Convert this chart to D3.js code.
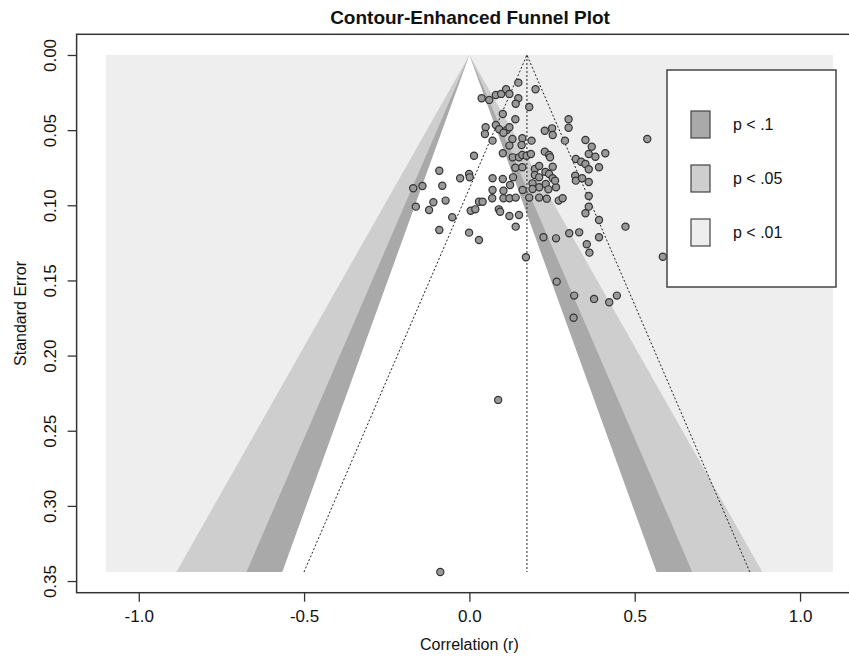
<!DOCTYPE html>
<html lang="en">
<head>
  <meta charset="UTF-8">
  <title>Contour-Enhanced Funnel Plot</title>
  <script src="https://d3js.org/d3.v7.min.js"></script>
  <style>
    body { margin: 0; background: #fff; }
    text { font-family: "Liberation Sans", Arial, sans-serif; fill: #111; }
    .tick-label { font-size: 17px; }
    .axis-title { font-size: 16px; }
    .title { font-size: 19px; font-weight: bold; }
    .legend-label { font-size: 16px; }
  </style>
</head>
<body>
  <div id="chart"></div>

  <script>
    // study effects (correlation) and standard errors
    const r = [
      0.148, 0.200, 0.037, 0.060, 0.080, 0.096, 0.111, 0.121, 0.148, 0.140,
      0.181, 0.101, 0.139, 0.300, 0.300, 0.049, 0.080, 0.090, 0.113, 0.121,
      0.047, 0.070, 0.103, 0.228, 0.250, 0.252, 0.130, 0.160, 0.188, 0.289,
      0.351, 0.538, 0.121, 0.158, 0.370, 0.014, 0.101, 0.131, 0.150, 0.160,
      0.173, 0.186, 0.228, 0.241, 0.244, 0.322, 0.361, 0.381, 0.411, 0.338,
      0.351, 0.361, 0.392, 0.139, 0.160, 0.198, 0.211, 0.252, 0.230, 0.132,
      0.198, 0.211, 0.241, 0.252, 0.320, 0.322, 0.341, 0.361, -0.091, -0.028,
      -0.001, 0.001, 0.070, 0.101, -0.170, -0.142, -0.082, 0.070, 0.103, 0.123,
      0.161, 0.191, 0.211, 0.231, 0.262, 0.239, 0.259, 0.191, -0.162, -0.122,
      -0.109, -0.072, -0.052, -0.091, -0.001, 0.029, 0.040, 0.004, 0.018, 0.069,
      0.089, 0.093, 0.103, 0.121, 0.140, 0.121, 0.150, 0.140, 0.181, 0.211,
      0.234, 0.270, 0.282, 0.361, 0.361, 0.351, 0.392, 0.472, 0.029, 0.224,
      0.262, 0.302, 0.332, 0.392, 0.355, 0.363, 0.171, 0.585, 0.264, 0.317,
      0.377, 0.423, 0.446, 0.315, 0.087, -0.088
    ];
    const se = [
      0.0184, 0.0228, 0.0288, 0.0299, 0.0266, 0.0259, 0.0228, 0.0259, 0.0288, 0.0324,
      0.0346, 0.0393, 0.0428, 0.0428, 0.0484, 0.0481, 0.0466, 0.0494, 0.0499, 0.0481,
      0.0526, 0.0570, 0.0517, 0.0504, 0.0488, 0.0532, 0.0559, 0.0554, 0.0570, 0.0570,
      0.0566, 0.0559, 0.0603, 0.0599, 0.0610, 0.0670, 0.0654, 0.0681, 0.0681, 0.0665,
      0.0670, 0.0659, 0.0643, 0.0665, 0.0681, 0.0692, 0.0659, 0.0677, 0.0654, 0.0710,
      0.0725, 0.0760, 0.0747, 0.0750, 0.0747, 0.0758, 0.0739, 0.0743, 0.0778, 0.0814,
      0.0798, 0.0814, 0.0792, 0.0820, 0.0803, 0.0836, 0.0820, 0.0845, 0.0770, 0.0820,
      0.0792, 0.0814, 0.0820, 0.0825, 0.0887, 0.0872, 0.0870, 0.0898, 0.0903, 0.0865,
      0.0898, 0.0854, 0.0880, 0.0858, 0.0880, 0.0894, 0.0836, 0.0892, 0.1009, 0.1031,
      0.0980, 0.0969, 0.1080, 0.1164, 0.1182, 0.0976, 0.0976, 0.1036, 0.1027, 0.0953,
      0.1027, 0.1043, 0.0953, 0.0953, 0.0949, 0.1071, 0.1065, 0.1142, 0.0949, 0.0949,
      0.0956, 0.0969, 0.0953, 0.0938, 0.1009, 0.1053, 0.1098, 0.1142, 0.1231, 0.1213,
      0.1220, 0.1186, 0.1180, 0.1213, 0.1259, 0.1315, 0.1346, 0.1342, 0.1508, 0.1601,
      0.1623, 0.1645, 0.1601, 0.1748, 0.2295, 0.3440
    ];

    const estimate = 0.174;   // pooled estimate (dotted funnel)
    const seMax = 0.344;
    const xLim = [-1.1, 1.1];

    // contour levels, outermost first
    const levelZ = [2.576, 1.96, 1.645];
    const levelFill = ["#cecece", "#a9a9a9", "#ffffff"];
    const legendLabels = ["p < .1", "p < .05", "p < .01"];
    const legendFill = ["#a9a9a9", "#cecece", "#eeeeee"];

    const xTicks = [-1.0, -0.5, 0.0, 0.5, 1.0];
    const yTicks = [0, 0.05, 0.10, 0.15, 0.20, 0.25, 0.30, 0.35];

    const W = 849, H = 658;
    const svg = d3.select("#chart").append("svg")
      .attr("width", W).attr("height", H);

    // R style 4% padding around the data limits
    const xPad = (xLim[1] - xLim[0]) * 0.04;
    const yPad = seMax * 0.04;
    const x = d3.scaleLinear()
      .domain([xLim[0] - xPad, xLim[1] + xPad])
      .range([76.6, 862.2]);
    const y = d3.scaleLinear()
      .domain([-yPad, seMax + yPad])
      .range([34.3, 592.7]);

    // background region
    svg.append("rect")
      .attr("x", x(xLim[0])).attr("y", y(0))
      .attr("width", x(xLim[1]) - x(xLim[0]))
      .attr("height", y(seMax) - y(0))
      .attr("fill", "#eeeeee");

    const line = d3.line().x(d => x(d[0])).y(d => y(d[1]));

    levelZ.forEach((z, i) => {
      svg.append("path")
        .attr("d", line([[-z * seMax, seMax], [0, 0], [z * seMax, seMax]]) + "Z")
        .attr("fill", levelFill[i]);
    });

    // dotted reference funnel around the estimate
    const dotted = g => g.attr("fill", "none").attr("stroke", "#222")
      .attr("stroke-width", 1).attr("stroke-dasharray", "2,2");
    svg.append("path")
      .attr("d", line([[estimate - 1.96 * seMax, seMax], [estimate, 0], [estimate + 1.96 * seMax, seMax]]))
      .call(dotted);
    svg.append("path")
      .attr("d", line([[estimate, 0], [estimate, seMax]]))
      .call(dotted);

    // studies
    svg.selectAll(".pt")
      .data(d3.range(r.length))
      .enter().append("circle")
      .attr("class", "pt")
      .attr("cx", i => x(r[i]))
      .attr("cy", i => y(se[i]))
      .attr("r", 3.6)
      .attr("fill", "#999")
      .attr("stroke", "#333")
      .attr("stroke-width", 1.2);

    // plot box
    svg.append("rect")
      .attr("x", x.range()[0]).attr("y", y.range()[0])
      .attr("width", x.range()[1] - x.range()[0])
      .attr("height", y.range()[1] - y.range()[0])
      .attr("fill", "none").attr("stroke", "#333").attr("stroke-width", 1.5);

    // x axis (plain hyphen for negatives, as in R)
    const fmt1 = d3.format(".1f");
    const xAxis = svg.append("g")
      .attr("transform", `translate(0,${y.range()[1]})`)
      .call(d3.axisBottom(x).tickValues(xTicks).tickSize(9).tickPadding(8)
        .tickFormat(d => fmt1(d).replace("\u2212", "-")));
    xAxis.select(".domain").remove();
    xAxis.selectAll("line").attr("stroke", "#333").attr("stroke-width", 1.3);
    xAxis.selectAll("text").attr("class", "tick-label").attr("fill", "#111");
    xAxis.attr("font-size", null).attr("font-family", null);

    // y axis
    const yAxis = svg.append("g")
      .attr("transform", `translate(${x.range()[0]},0)`)
      .call(d3.axisLeft(y).tickValues(yTicks).tickSize(9).tickFormat(d3.format(".2f")));
    yAxis.select(".domain").remove();
    yAxis.selectAll("line").attr("stroke", "#333").attr("stroke-width", 1.3);
    yAxis.selectAll("text")
      .attr("class", "tick-label")
      .attr("x", null).attr("dy", null)
      .attr("text-anchor", "middle")
      .attr("transform", "translate(-21,0) rotate(-90)");
    yAxis.attr("font-size", null).attr("font-family", null);

    // titles
    svg.append("text").attr("class", "title")
      .attr("x", 470).attr("y", 24).attr("text-anchor", "middle")
      .text("Contour-Enhanced Funnel Plot");
    svg.append("text").attr("class", "axis-title")
      .attr("x", x(0)).attr("y", 650).attr("text-anchor", "middle")
      .text("Correlation (r)");
    svg.append("text").attr("class", "axis-title")
      .attr("transform", `translate(26,${(y.range()[0] + y.range()[1]) / 2}) rotate(-90)`)
      .attr("text-anchor", "middle")
      .text("Standard Error");

    // legend
    const legend = svg.append("g").attr("transform", "translate(667,70)");
    legend.append("rect")
      .attr("width", 169).attr("height", 217)
      .attr("fill", "#fff").attr("stroke", "#444").attr("stroke-width", 1.5);
    legendLabels.forEach((lab, i) => {
      legend.append("rect")
        .attr("x", 24).attr("y", 41 + i * 54)
        .attr("width", 19).attr("height", 27)
        .attr("fill", legendFill[i]).attr("stroke", "#444").attr("stroke-width", 1.2);
      legend.append("text").attr("class", "legend-label")
        .attr("x", 66).attr("y", 60 + i * 54)
        .text(lab);
    });
  </script>
</body>
</html>
